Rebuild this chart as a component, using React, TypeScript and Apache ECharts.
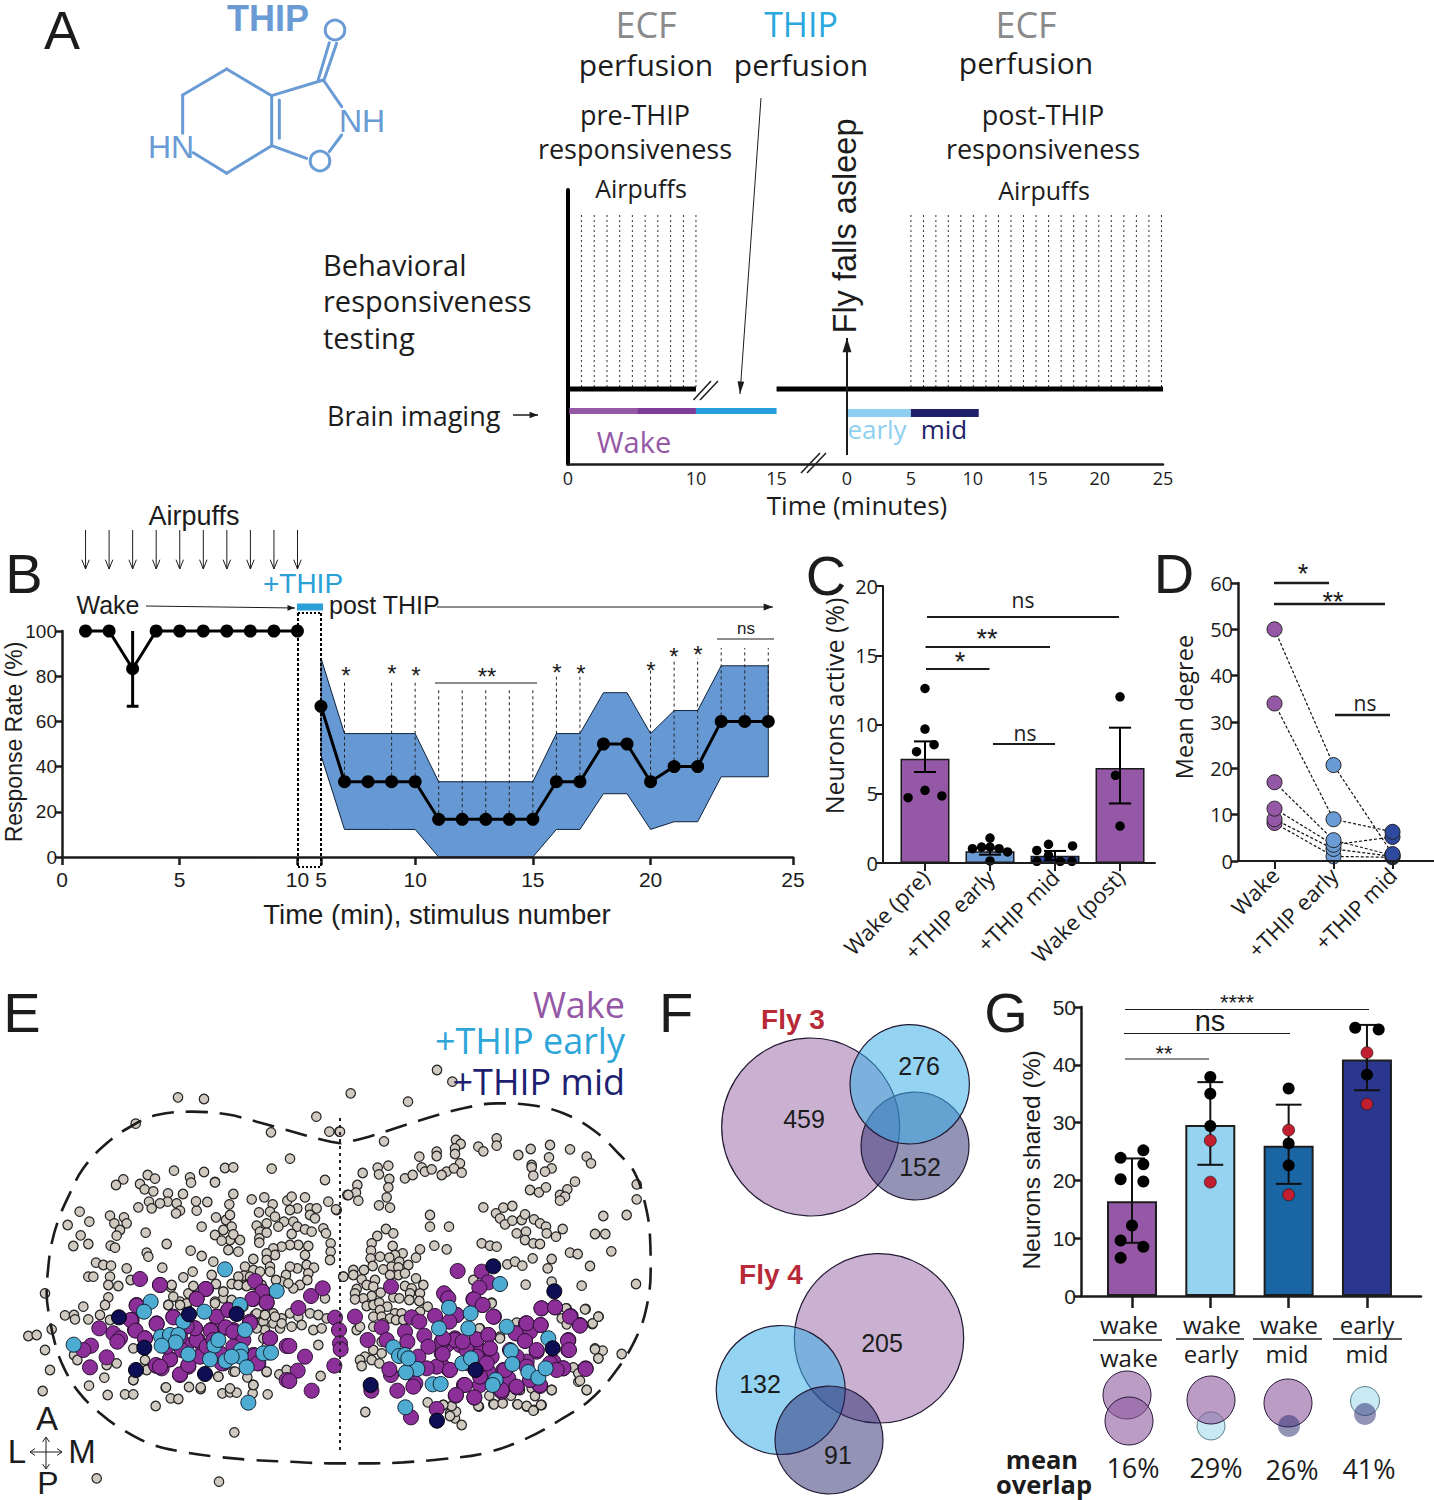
import React, { useEffect, useRef } from "react";
import * as echarts from "echarts";

const SANS = "Liberation Sans";
const MYR = "Open Sans";
const INK = "#1c1c1c";
const PURPLE = "#9558a6";
const LBLUE = "#6a9bd5";
const NAVY = "#2e4a9e";

// ---------- Panel A
const aTickPos = [0, 10, 16.3, 21.8, 26.8, 31.64, 36.7, 41.56, 46.5];
const aTickLabels = ["0", "10", "15", "0", "5", "10", "15", "20", "25"];
const aPrePuffs = [1.05, 2.05, 3.05, 4.04, 5.03, 6.03, 7.02, 8.02, 9.02, 10];
const aPostPuffs = [26.8, 27.78, 28.75, 29.72, 30.7, 31.68, 32.66, 33.64, 34.62, 35.6, 36.58, 37.56, 38.54, 39.52, 40.5, 41.48, 42.46, 43.44, 44.42, 45.4, 46.38];

// ---------- Panel B
const bTickPos = [0, 5, 10, 11, 15, 20, 25, 31.05];
const bTickLabels = ["0", "5", "10", "5", "10", "15", "20", "25"];
const bWakeX = [1, 2, 3, 4, 5, 6, 7, 8, 9, 10];
const bWakeY = [100, 100, 83.3, 100, 100, 100, 100, 100, 100, 100];
const bPostX = [11, 12, 13, 14, 15, 16, 17, 18, 19, 20, 21, 22, 23, 24, 25, 26, 27, 28, 29, 30];
const bPostY = [66.7, 33.3, 33.3, 33.3, 33.3, 16.7, 16.7, 16.7, 16.7, 16.7, 33.3, 33.3, 50, 50, 33.3, 40, 40, 60, 60, 60];
const bUpper = [88, 54.6, 54.6, 54.6, 54.6, 33.3, 33.3, 33.3, 33.3, 33.3, 54.6, 54.6, 72.7, 72.7, 54.6, 64.8, 64.8, 84.6, 84.6, 84.6];
const bLower = [45, 12.2, 12.2, 12.2, 12.2, 0, 0, 0, 0, 0, 12.2, 12.2, 28, 28, 12.2, 15.6, 15.6, 35.5, 35.5, 35.5];
const bDashX = [12, 14, 15, 16, 17, 18, 19, 20, 21, 22, 25, 26, 27, 28, 29, 30];
const bDashTop = [78, 78, 78, 74, 74, 74, 74, 74, 80.7, 80.7, 84, 87, 88, 92.5, 92.5, 92.5];
const bDashBottom = [33.3, 33.3, 33.3, 16.7, 16.7, 16.7, 16.7, 16.7, 33.3, 33.3, 33.3, 40, 40, 60, 60, 60];

// ---------- Panel C
const cCats = ["Wake (pre)", "+THIP early", "+THIP mid", "Wake (post)"];
const cBars = [7.53, 0.84, 0.53, 6.86];
const cColors = [PURPLE, LBLUE, NAVY, PURPLE];
const cErrLow = [6.57, 0.6, 0.2, 4.3];
const cErrHigh = [8.78, 1.05, 0.87, 9.77];
const cPoints = [
  [0, 12.6], [0, 9.67], [0.14, 8.54], [-0.13, 8.04], [0, 5.25], [-0.26, 4.72], [0.26, 4.84],
  [1, 1.8], [0.87, 1.15], [0.73, 1.03], [1, 1.15], [1.14, 1.03], [1.27, 0.8], [1, 0.15],
  [1.9, 1.35], [2.27, 1.23], [1.72, 0.91], [1.9, 0.55], [1.72, 0.12], [2.08, 0.12], [2.26, 0.12],
  [3, 12], [2.93, 6.33], [3, 2.67],
];

// ---------- Panel D
const dCats = ["Wake", "+THIP early", "+THIP mid"];
const dColors = [PURPLE, LBLUE, NAVY];
const dFly1 = [50, 20.7, 1.5];
const dFly2 = [34, 9, 6.3];
const dFly3 = [17, 4.5, 1.2];
const dFly4 = [11.3, 3.5, 5.2];
const dFly5 = [9, 2.6, 1];
const dFly6 = [8.2, 1, 0.8];

// ---------- Panel G
const gBars = [16.4, 29.6, 26, 40.9];
const gColors = ["#9558a6", "#96d3f0", "#1a65a4", "#2b378f"];
const gErrLow = [9.2, 22.7, 19.4, 35.6];
const gErrHigh = [23.8, 37, 33.1, 46.9];
const gBlack = [
  [-0.145, 23.9], [-0.145, 20.2], [-0.145, 9.6], [-0.145, 6.6], [0.145, 25.2], [0.145, 22.8], [0.145, 19.8], [0.145, 8.5], [0, 12.2],
  [1, 37.9], [1, 35], [1, 29.4], [2, 35.9], [2, 26.4], [2, 22.6], [2.85, 46.4], [3.15, 46.1], [3, 38.3],
];
const gRed = [[1, 26.9], [1, 19.7], [2, 28.7], [2, 17.5], [3, 42.1], [3, 33.2]];

// ---------- Panel E  (reading units: 3 per pixel; the right half starts at 990)
const eOutlineLeft = [[1020, 190], [970, 180], [860, 150], [770, 125], [680, 103], [575, 95], [470, 105], [400, 135], [320, 190], [250, 265], [205, 350], [175, 420], [155, 490], [145, 560], [140, 640], [148, 710], [165, 790], [190, 860], [235, 935], [300, 1000], [370, 1050], [460, 1095], [545, 1115], [650, 1130], [760, 1140], [870, 1145], [990, 1150]];
const eOutlineRight = [[60, 1150], [130, 1150], [220, 1147], [340, 1137], [470, 1118], [590, 1075], [690, 1020], [780, 960], [860, 870], [920, 770], [950, 680], [962, 570], [960, 470], [945, 370], [915, 280], [870, 225], [790, 150], [700, 100], [600, 75], [500, 70], [400, 85], [290, 115], [180, 150], [100, 175], [30, 190]];
const eGreyLeft = [[534,52],[612,57],[407,131],[813,157],[949,110],[988,155],[1018,155],[870,236],[815,266],[675,264],[700,262],[522,272],[612,276],[570,292],[573,308],[645,306],[443,285],[465,296],[370,298],[348,315],[420,312],[434,328],[460,334],[504,340],[549,342],[503,365],[447,365],[480,370],[415,382],[455,385],[590,392],[588,364],[622,366],[530,370],[540,392],[528,400],[239,395],[330,407],[372,412],[343,430],[380,430],[268,425],[203,435],[360,450],[350,467],[242,466],[437,458],[605,440],[220,498],[265,492],[332,497],[345,503],[500,492],[440,518],[445,530],[572,512],[605,528],[288,548],[310,555],[333,557],[380,565],[487,563],[550,592],[578,575],[265,590],[280,590],[330,590],[325,615],[355,618],[392,600],[513,622],[565,640],[135,640],[325,652],[250,680],[315,675],[195,706],[222,705],[225,718],[265,718],[300,705],[330,720],[505,675],[540,665],[560,680],[155,748],[85,768],[110,765],[135,810],[955,795],[800,800],[150,870],[222,825],[232,840],[350,850],[320,855],[128,933],[267,917],[313,893],[323,945],[375,943],[400,943],[467,978],[497,923],[512,955],[535,957],[567,921],[602,927],[655,890],[700,875],[760,915],[667,940],[690,937],[710,938],[758,940],[803,943],[838,883],[962,888],[800,876],[400,900],[703,1057],[290,1195],[657,1205],[1042,345],[1030,590]];
const ePurpleLeft = [[420,597],[480,615],[617,627],[590,657],[765,603],[787,635],[757,657],[800,667],[933,648],[968,625],[895,684],[1005,713],[1017,750],[1020,790],[1022,808],[1003,857],[410,677],[392,720],[470,732],[520,712],[650,710],[685,690],[750,730],[407,752],[298,745],[340,760],[435,775],[360,775],[352,785],[273,797],[250,810],[320,832],[270,862],[468,855],[510,838],[540,883],[565,855],[590,780],[585,745],[632,752],[677,742],[700,755],[730,780],[810,775],[868,798],[915,830],[893,872],[868,903],[935,932],[765,827],[773,850],[665,850],[600,830],[545,810],[620,800],[500,800],[700,800],[480,860],[560,740],[640,780],[660,820],[540,770]];
const eBlueLeft = [[675,568],[830,633],[452,665],[432,695],[720,675],[613,695],[550,725],[735,750],[483,770],[510,765],[535,765],[527,787],[485,797],[221,794],[643,797],[655,780],[565,823],[723,810],[722,830],[630,838],[677,843],[790,820],[813,818],[740,862],[745,968],[695,830]];
const eNavyLeft = [[357,712],[567,703],[710,702],[433,803],[408,870],[615,882]];
const eGreyRight = [[321,-30],[367,5],[62,40],[234,65],[30,155],[162,184],[500,175],[500,197],[378,180],[392,192],[375,205],[375,222],[320,215],[320,228],[268,230],[445,200],[460,214],[565,225],[602,207],[660,195],[657,232],[720,208],[770,230],[783,250],[390,250],[605,255],[605,262],[665,265],[645,275],[610,287],[735,305],[920,313],[920,358],[175,257],[143,263],[147,283],[98,279],[275,262],[285,275],[305,268],[350,275],[372,265],[395,278],[335,285],[225,295],[248,285],[178,297],[175,322],[82,315],[78,338],[55,345],[85,362],[170,352],[147,376],[180,383],[20,390],[600,330],[627,337],[648,322],[712,328],[690,345],[705,350],[690,362],[460,382],[498,400],[520,383],[547,378],[510,415],[525,433],[547,422],[575,420],[585,403],[612,418],[630,430],[648,440],[698,447],[560,460],[588,455],[585,480],[610,490],[630,492],[650,460],[678,470],[820,408],[890,405],[795,462],[826,462],[844,514],[455,490],[480,497],[500,500],[720,518],[743,522],[608,535],[532,553],[555,545],[577,557],[665,537],[653,565],[780,558],[918,612],[587,614],[755,617],[665,605],[106,996],[767,687],[806,710],[787,732],[710,685],[795,805],[818,812],[805,835],[875,822],[742,870],[745,905],[770,930],[665,930],[562,973],[590,980],[612,990],[635,975],[518,968],[490,972],[543,945],[447,980],[293,967],[340,975],[360,1000],[375,1015],[395,1035],[378,995],[485,668],[430,600],[510,770],[450,745]];
const ePurpleRight = [[383,573],[455,575],[475,607],[448,623],[432,658],[458,675],[342,640],[355,655],[183,620],[75,710],[155,742],[113,780],[170,780],[225,755],[245,712],[268,725],[232,785],[283,767],[315,708],[380,705],[358,725],[490,710],[440,778],[475,765],[375,780],[335,785],[295,800],[265,830],[320,860],[360,870],[183,885],[178,868],[256,910],[250,920],[202,932],[338,822],[340,775],[410,810],[480,805],[440,830],[470,850],[405,915],[378,945],[433,952],[515,930],[560,920],[525,870],[450,890],[320,987],[243,1012],[124,932],[590,730],[632,735],[557,760],[585,783],[634,685],[675,682],[720,710],[750,737],[714,782],[717,810],[620,810],[700,865],[767,867],[630,915],[600,900],[660,850],[680,870],[560,830],[540,810],[590,860],[398,785],[415,850],[290,865]];
const eBlueRight = [[510,612],[357,683],[422,700],[327,745],[415,745],[530,740],[655,775],[190,802],[207,828],[225,825],[262,867],[228,877],[308,913],[332,912],[397,850],[423,835],[543,813],[547,852],[595,876],[625,893],[647,865],[497,900],[488,915],[226,982],[235,835]];
const eNavyRight = [[490,559],[673,634],[668,805],[437,870],[122,915],[321,1022]];
// close-up readings of the dense regions, each relative to its crop's corner
const eGreyCrop1 = [[15,37],[70,72],[58,103],[125,88],[163,82],[188,103],[232,92],[245,80],[285,82],[262,115],[240,120],[180,125],[147,127],[18,142],[48,150],[60,135],[65,170],[40,180],[15,195],[60,210],[90,210],[70,193],[55,240],[85,245],[35,212],[140,167],[170,160],[195,140],[222,155],[250,155],[262,170],[205,170],[245,192],[150,185],[148,205],[148,218],[170,188],[285,178],[305,185],[300,115],[320,115],[300,135],[315,145],[355,95],[378,118],[340,175],[348,190],[362,220],[362,245],[360,270],[345,30],[265,225],[295,228],[240,225],[215,230],[190,235],[195,255],[170,250],[170,270],[130,267],[105,290],[180,290],[180,305],[285,255],[290,285],[312,293],[295,310],[262,295],[240,290],[228,315],[215,335],[102,317],[85,320],[130,300],[150,305],[120,320],[105,345],[130,345],[65,342],[85,345],[40,365],[40,385],[198,330],[155,345],[270,345],[250,355],[235,340],[292,330],[345,385],[15,395],[135,435],[160,435],[190,430],[240,430],[265,440],[300,430],[325,435],[350,445],[160,455],[190,460],[215,445],[245,470],[275,465],[310,480],[335,475],[165,480],[210,475],[5,315],[10,275]];
const eGreyCrop2 = [[270,15],[270,50],[327,50],[283,107],[320,118],[138,57],[160,70],[112,78],[95,100],[158,108],[93,122],[92,145],[120,140],[240,118],[228,143],[188,130],[165,135],[148,143],[178,155],[205,165],[98,168],[130,178],[155,170],[175,172],[175,195],[150,195],[195,190],[40,180],[72,180],[40,195],[10,200],[65,208],[105,210],[228,205],[195,228],[250,225],[215,235],[80,225],[100,230],[50,237],[122,248],[95,258],[45,250],[70,265],[45,268],[160,262],[178,265],[210,250],[240,250],[208,270],[238,273],[80,288],[100,285],[118,278],[142,290],[120,300],[165,310],[185,310],[263,290],[240,305],[100,320],[125,320],[150,325],[168,330],[190,330],[100,350],[50,360],[60,350],[130,340],[125,395],[100,420],[75,440],[95,450],[118,460],[125,430],[60,450],[65,468]];
const eGreyCrop3 = [[155,40],[435,58],[378,55],[365,85],[380,103],[458,100],[475,80],[180,145],[118,115],[465,178],[475,205],[400,232],[415,250],[420,272],[440,300],[335,300],[275,295],[285,318],[240,300],[213,317],[148,317],[162,343],[188,340],[233,343],[260,348],[280,362],[303,345],[115,348],[35,348],[10,345],[30,378],[230,98]];
const ePurpleCrop3 = [[20,20],[100,28],[127,45],[305,55],[345,52],[392,78],[420,105],[162,80],[258,100],[302,105],[145,135],[110,150],[230,130],[255,152],[270,125],[45,145],[20,165],[5,190],[60,165],[85,180],[148,178],[120,185],[155,200],[385,150],[385,180],[290,185],[260,215],[340,215],[370,235],[437,235],[28,240],[5,225],[72,285],[120,285],[47,317],[103,323],[190,240],[205,265],[230,292],[185,305],[300,288],[145,245],[10,150],[50,75]];
const eGreyCrop4 = [[125,15],[130,50],[115,75],[190,18],[258,12],[280,35],[305,60],[350,18],[340,80],[435,110],[455,130],[380,100],[405,105],[380,145],[400,175],[470,270],[415,225],[410,275],[315,275],[265,290],[352,292],[370,315],[300,325],[108,322],[212,322],[10,205],[45,240],[10,300],[50,270],[170,70],[150,75],[255,70]];
const ePurpleCrop4 = [[90,15],[228,27],[200,55],[370,57],[398,35],[410,68],[20,75],[80,130],[5,120],[15,150],[130,110],[260,110],[295,90],[45,175],[195,145],[243,150],[287,143],[310,150],[203,180],[170,195],[220,205],[360,125],[420,175],[470,198],[370,225],[385,250],[120,238],[80,258],[95,265],[175,260],[150,285],[280,250],[470,300]];
const off = (a: number[][], dx: number, dy: number) => a.map(([x, y]) => [x + dx, y + dy]);
const shift = (a: number[][]) => off(a, 990, 0);

// ---------- helpers
const txt = (text: string, x: number, y: number, size: number, o: any = {}) => ({
  type: "text", x, y, z: 60, silent: true, rotation: o.rotation || 0,
  style: {
    text, fill: o.fill || INK, fontSize: size, fontFamily: o.font || SANS, fontWeight: o.weight || "normal",
    align: o.align || "center", textAlign: o.align || "center", verticalAlign: "middle", textVerticalAlign: "middle", textBaseline: "middle",
  },
});
const ln = (x1: number, y1: number, x2: number, y2: number, w = 1, stroke = INK, dash?: number[]) => ({
  type: "line", z: 55, silent: true, shape: { x1, y1, x2, y2 },
  style: { stroke, lineWidth: w, lineDash: dash },
});
const arrow = (x1: number, y1: number, x2: number, y2: number, w = 1, head = 8, filled = true, spread = 0.36) => {
  const a = Math.atan2(y2 - y1, x2 - x1);
  const p1 = [x2 - head * Math.cos(a - spread), y2 - head * Math.sin(a - spread)];
  const p2 = [x2 - head * Math.cos(a + spread), y2 - head * Math.sin(a + spread)];
  return [
    ln(x1, y1, x2, y2, w),
    filled
      ? { type: "polygon", z: 55, silent: true, shape: { points: [[x2, y2], p1, p2] }, style: { fill: INK } }
      : { type: "polyline", z: 55, silent: true, shape: { points: [p1, [x2, y2], p2] }, style: { stroke: INK, fill: "none", lineWidth: w } },
  ];
};
const circ = (cx: number, cy: number, r: number, fill: string, stroke = "#221a33", lw = 1.2) => ({
  type: "circle", z: 40, silent: true, shape: { cx, cy, r }, style: { fill, stroke, lineWidth: lw },
});

const segs = (gridIdx: number, data: number[][], stroke: string, lineWidth: number, lineDash?: number[], z = 3) => ({
  type: "custom", xAxisIndex: gridIdx, yAxisIndex: gridIdx, z, silent: true, clip: false,
  data, encode: { x: [0, 2], y: [1, 3] },
  renderItem: (_: any, api: any) => {
    const a = api.coord([api.value(0), api.value(1)]);
    const b = api.coord([api.value(2), api.value(3)]);
    return { type: "line", shape: { x1: a[0], y1: a[1], x2: b[0], y2: b[1] }, style: { stroke, lineWidth, lineDash, lineCap: "butt", fill: "none" } };
  },
});
const dots = (gridIdx: number, data: number[][], color: string, size: number, z = 5, border?: string, bw = 0) => ({
  type: "scatter", xAxisIndex: gridIdx, yAxisIndex: gridIdx, z, silent: true, clip: false, symbolSize: size, data,
  itemStyle: { color, borderColor: border, borderWidth: bw, opacity: 1 },
});
const tickFmt = (pos: number[], labels: string[]) => (v: number) => {
  const i = pos.findIndex((p) => Math.abs(p - v) < 1e-6);
  return i < 0 ? "" : labels[i];
};
const errSegs = (low: number[], high: number[], capHalf: number) =>
  low.flatMap((l, i) => [[i, l, i, high[i]], [i - capHalf, l, i + capHalf, l], [i - capHalf, high[i], i + capHalf, high[i]]]);
const yAxisBase = (gridIndex: number, max: number, interval: number, fontSize: number, font: string, lw = 2.5) => ({
  type: "value", gridIndex, min: 0, max, interval, splitLine: { show: false }, z: 1,
  axisLine: { show: true, onZero: false, lineStyle: { color: INK, width: lw } },
  axisTick: { show: true, length: 7, lineStyle: { color: INK, width: lw } },
  axisLabel: { color: INK, fontSize, fontFamily: font, margin: 5 },
});
const xAxisCustom = (gridIndex: number, min: number, max: number, pos: number[], labels: string[], o: any = {}) => ({
  type: "value", gridIndex, min, max, splitLine: { show: false }, z: 10,
  axisLine: { show: true, onZero: false, lineStyle: { color: INK, width: o.lw ?? 2.5 } },
  axisTick: { show: o.tick ?? true, length: o.tickLen ?? 8, customValues: pos, lineStyle: { color: INK, width: o.lw ?? 2.5 } },
  axisLabel: {
    show: o.labels ?? true, customValues: pos, formatter: tickFmt(pos, labels), color: INK, fontSize: o.fontSize ?? 20,
    fontFamily: o.font ?? SANS, rotate: o.rotate ?? 0, margin: o.margin ?? 10, showMinLabel: true, showMaxLabel: true, hideOverlap: false,
  },
});

export default function App() {
  const ref = useRef<HTMLDivElement>(null);
  useEffect(() => {
    const chart = echarts.init(ref.current!, null, { renderer: "svg" });

    const grid = [
      { left: 568, top: 190, width: 595, height: 274 }, // A
      { left: 62, top: 631, width: 731, height: 226 }, // B
      { left: 883, top: 586, width: 272, height: 277 }, // C
      { left: 1238, top: 583, width: 196, height: 278 }, // D
      { left: 1081, top: 1007, width: 340, height: 289 }, // G
      { left: 0, top: 1050, width: 660, height: 450 }, // E
    ];

    const xAxis: any[] = [
      xAxisCustom(0, 0, 46.5, aTickPos, aTickLabels, { tick: false, fontSize: 18, font: MYR, margin: 5 }),
      xAxisCustom(1, 0, 31.05, bTickPos, bTickLabels, { fontSize: 21, margin: 12 }),
      xAxisCustom(2, -0.646, 3.538, [0, 1, 2, 3], cCats, { rotate: 45, fontSize: 22, font: MYR, margin: 10, lw: 2 }),
      xAxisCustom(3, -0.619, 2.703, [0, 1, 2], dCats, { rotate: 45, fontSize: 22, font: MYR, margin: 10, lw: 2 }),
      xAxisCustom(4, -0.651, 3.69, [0, 1, 2, 3], ["", "", "", ""], { labels: false, tickLen: 12, lw: 2.5 }),
      { type: "value", gridIndex: 5, min: 0, max: 1980, show: false },
    ];
    const yAxis: any[] = [
      { type: "value", gridIndex: 0, min: 0, max: 274, splitLine: { show: false }, axisTick: { show: false }, axisLabel: { show: false }, axisLine: { show: true, lineStyle: { color: "#000", width: 4 } } },
      yAxisBase(1, 100, 20, 19, SANS),
      yAxisBase(2, 20, 5, 20, MYR, 2),
      yAxisBase(3, 60, 10, 20, MYR, 2.5),
      yAxisBase(4, 50, 10, 21, SANS, 2.5),
      { type: "value", gridIndex: 5, min: -90, max: 1260, inverse: true, show: false },
    ];

    const dFlies = [dFly6, dFly5, dFly4, dFly3, dFly2, dFly1];
    const allGrey = [...eGreyLeft, ...shift(eGreyRight), ...off(eGreyCrop1, 630, 270), ...off(eGreyCrop2, 1020, 390), ...off(eGreyCrop3, 1320, 630), ...off(eGreyCrop4, 390, 600)];
    const allPurple = [...off(ePurpleCrop4, 390, 600), ...off(ePurpleCrop3, 1320, 630), ...ePurpleLeft, ...shift(ePurpleRight)];
    const series: any[] = [
      // A
      segs(0, aPrePuffs.map((x) => [x, 77, x, 252]), "#333", 1, [2, 3]),
      segs(0, aPostPuffs.map((x) => [x, 77, x, 252]), "#333", 1, [2, 3]),
      segs(0, [[0, 75, 10, 75], [16.3, 75, 46.5, 75]], "#000", 5),
      segs(0, [[0.1, 53, 5.4, 53]], "#9558a6", 6),
      segs(0, [[5.4, 53, 10, 53]], "#7f3c97", 6),
      segs(0, [[10, 53, 16.3, 53]], "#25a0dc", 6),
      segs(0, [[21.8, 51, 26.8, 51]], "#8fd0f0", 8),
      segs(0, [[26.8, 51, 32.1, 51]], "#1f1f6b", 8),
      // B
      {
        type: "custom", xAxisIndex: 1, yAxisIndex: 1, z: 2, silent: true, clip: false,
        data: [[bPostX[0], bUpper[0]]],
        renderItem: (_: any, api: any) => ({
          type: "polygon",
          shape: {
            points: [
              ...bPostX.map((x, i) => api.coord([x, bUpper[i]])),
              ...bPostX.map((x, i) => api.coord([x, bLower[i]])).reverse(),
            ],
          },
          style: { fill: "#6699d3", stroke: "#10233c", lineWidth: 1 },
        }),
      },
      segs(1, bDashX.map((x, i) => [x, bDashBottom[i], x, bDashTop[i]]), "#222", 1, [3, 3], 3),
      segs(1, [[3, 66.7, 3, 100], [2.75, 66.7, 3.25, 66.7]], "#000", 3, undefined, 4),
      {
        type: "line", xAxisIndex: 1, yAxisIndex: 1, z: 5, silent: true, symbol: "circle", symbolSize: 13, clip: false,
        data: bWakeX.map((x, i) => [x, bWakeY[i]]), lineStyle: { color: "#000", width: 3 }, itemStyle: { color: "#000" },
      },
      {
        type: "line", xAxisIndex: 1, yAxisIndex: 1, z: 5, silent: true, symbol: "circle", symbolSize: 13, clip: false,
        data: bPostX.map((x, i) => [x, bPostY[i]]), lineStyle: { color: "#000", width: 3 }, itemStyle: { color: "#000" },
      },
      // C
      {
        type: "bar", xAxisIndex: 2, yAxisIndex: 2, z: 2, silent: true, barWidth: 49,
        data: cBars.map((v, i) => ({ value: [i, v], itemStyle: { color: cColors[i], borderColor: "#1a1a1a", borderWidth: 1.5 } })),
      },
      dots(2, cPoints, "#000", 9.5, 5),
      segs(2, errSegs(cErrLow, cErrHigh, 0.17), "#000", 2, undefined, 4),
      // D
      ...dFlies.map((fly, f) => ({
        type: "line", xAxisIndex: 3, yAxisIndex: 3, z: 4 + f, silent: true, symbol: "circle", symbolSize: 15, clip: false,
        lineStyle: { color: "#111", width: 1.2, type: [3, 2] },
        data: fly.map((v, i) => ({ value: [i, v], itemStyle: { color: dColors[i], borderColor: "#222", borderWidth: 1 } })),
      })),
      // G
      {
        type: "bar", xAxisIndex: 4, yAxisIndex: 4, z: 2, silent: true, barWidth: 50,
        data: gBars.map((v, i) => ({ value: [i, v], itemStyle: { color: gColors[i], borderColor: "#1e1e1e", borderWidth: 2 } })),
      },
      segs(4, errSegs(gErrLow, gErrHigh, 0.165), "#111", 2, undefined, 3),
      dots(4, gBlack, "#000", 12, 5),
      dots(4, gRed, "#c01f30", 12, 5, "#111", 0.6),
      // E
      dots(5, allGrey, "#cfc9c0", 9.5, 3, "#222", 1.2),
      {
        type: "line", xAxisIndex: 5, yAxisIndex: 5, z: 4, silent: true, symbol: "none", smooth: 0.4, clip: false,
        data: [...eOutlineLeft, ...shift(eOutlineRight), eOutlineLeft[0]],
        lineStyle: { color: "#1c1c1c", width: 2.6, type: [22, 12] },
      },
      dots(5, allPurple, "#8c2f99", 15, 5, "#2a1030", 1),
      dots(5, [...eBlueLeft, ...shift(eBlueRight)], "#4eabd1", 15, 6, "#123", 1),
      dots(5, [...eNavyLeft, ...shift(eNavyRight)], "#0e0e55", 15, 7, "#000", 1),
    ];

    const benzBlue = "#6a9bd4";
    const mol = (pts: number[][], w = 3) => pts.slice(1).map((p, i) => ({
      type: "line", z: 55, silent: true,
      shape: { x1: 130 + pts[i][0] / 3, y1: pts[i][1] / 3, x2: 130 + p[0] / 3, y2: p[1] / 3 },
      style: { stroke: benzBlue, lineWidth: w, lineCap: "round" },
    }));

    const graphic: any[] = [
      // panel letters
      txt("A", 62, 30, 54), txt("B", 24, 573, 56), txt("C", 826, 575, 56), txt("D", 1174, 573, 56),
      txt("E", 22, 1012, 56), txt("F", 676, 1012, 56), txt("G", 1006, 1012, 56),
      // molecule
      txt("THIP", 268, 18, 36, { weight: "bold", fill: benzBlue }),
      ...mol([[158, 400], [158, 285], [290, 207], [425, 287], [425, 437], [290, 520], [190, 458]]),
      ...mol([[448, 300], [448, 415]]),
      ...mol([[425, 287], [580, 240], [635, 320]]),
      ...mol([[565, 238], [598, 128]]),
      ...mol([[582, 240], [620, 130]]),
      ...mol([[635, 405], [598, 455]]),
      ...mol([[425, 437], [530, 475]]),
      { type: "circle", z: 55, silent: true, shape: { cx: 335, cy: 30, r: 9.8 }, style: { fill: "none", stroke: benzBlue, lineWidth: 3 } },
      { type: "circle", z: 55, silent: true, shape: { cx: 320, cy: 161, r: 9.8 }, style: { fill: "none", stroke: benzBlue, lineWidth: 3 } },
      txt("NH", 362, 121, 32, { fill: benzBlue }),
      txt("HN", 171, 147, 32, { fill: benzBlue }),
      // A texts
      txt("ECF", 646, 24, 36, { fill: "#8a8a8a", font: MYR }),
      txt("perfusion", 646, 64, 30, { font: MYR }),
      txt("THIP", 801, 24, 34, { fill: "#29a8e0", font: MYR }),
      txt("perfusion", 801, 64, 30, { font: MYR }),
      txt("ECF", 1026, 24, 36, { fill: "#8a8a8a", font: MYR }),
      txt("perfusion", 1026, 62, 30, { font: MYR }),
      txt("pre-THIP", 635, 114, 27, { font: MYR }),
      txt("responsiveness", 635, 148, 27, { font: MYR }),
      txt("post-THIP", 1043, 114, 27, { font: MYR }),
      txt("responsiveness", 1043, 148, 27, { font: MYR }),
      txt("Airpuffs", 641, 188, 25, { font: MYR }),
      txt("Airpuffs", 1044, 190, 25, { font: MYR }),
      txt("Behavioral", 323, 264, 29, { font: MYR, align: "left" }),
      txt("responsiveness", 323, 300, 29, { font: MYR, align: "left" }),
      txt("testing", 323, 337, 29, { font: MYR, align: "left" }),
      txt("Brain imaging", 327, 415, 27, { font: MYR, align: "left" }),
      ...arrow(513, 415, 538, 415, 1.5, 9),
      txt("Wake", 634, 441, 29, { fill: PURPLE, font: MYR }),
      txt("early", 877, 429, 26, { fill: "#8ed0ee", font: MYR }),
      txt("mid", 944, 429, 26, { fill: "#1f1f6b", font: MYR }),
      txt("Time (minutes)", 857, 505, 26, { font: MYR }),
      txt("Fly falls asleep", 845, 226, 32.5, { rotation: Math.PI / 2 }),
      ...arrow(847, 455, 847, 338, 2, 15, true, 0.3),
      ...arrow(761, 98, 740, 394, 1, 13, true, 0.26),
      ln(693.5, 400, 711, 381, 1.5), ln(700, 400, 718, 381, 1.5),
      ln(801, 473, 820, 453, 1.5), ln(807, 473, 826, 453, 1.5),
      // B texts
      txt("Airpuffs", 194, 516, 27),
      ...bWakeX.flatMap((s) => arrow(62 + s * 23.55, 530, 62 + s * 23.55, 569, 1, 10, false, 0.38)),
      txt("+THIP", 303, 583, 28, { fill: "#2a9fd8" }),
      ln(297, 607, 323, 607, 7, "#2a9fd8"),
      ln(298, 613, 321, 613, 2, "#000", [2, 2]),
      ln(298, 613, 298, 868, 2, "#000", [3, 2]),
      ln(321, 613, 321, 868, 2, "#000", [3, 2]),
      ln(298, 867, 321, 867, 2, "#000", [2, 2]),
      txt("Wake", 108, 605, 25),
      ...arrow(146, 606, 295, 608, 1, 8),
      txt("post THIP", 329, 605, 25, { align: "left" }),
      ...arrow(437, 607, 773, 607, 1, 10),
      txt("Time (min), stimulus number", 437, 914, 27.5),
      txt("Response Rate (%)", 14, 742, 23, { rotation: Math.PI / 2 }),
      ...[[346, 672], [392, 670], [416, 672], [557, 669], [581, 670], [651, 667], [674, 653], [698, 651]].map(([x, y]) => txt("*", x, y + 3, 24)),
      txt("**", 487, 676, 24),
      ln(435, 683, 537, 683, 1.2),
      txt("ns", 746, 628, 17),
      ln(717, 639, 774, 639, 1.2),
      // C texts
      txt("Neurons active (%)", 834, 706, 25, { rotation: Math.PI / 2, font: MYR }),
      ln(927, 617, 1119, 617, 2.2), txt("ns", 1023, 600, 21, { font: MYR }),
      ln(925.5, 647, 1050, 647, 2.2), txt("**", 987, 639, 27),
      ln(926, 669, 989.5, 669, 2.2), txt("*", 960, 662, 27),
      ln(993, 744, 1055, 744, 2.2), txt("ns", 1025, 733, 21, { font: MYR }),
      // D texts
      txt("Mean degree", 1184, 707, 23.5, { rotation: Math.PI / 2, font: MYR }),
      ln(1274, 583, 1329, 583, 2.5), txt("*", 1303, 574, 27),
      ln(1274, 604, 1385, 604, 2.5), txt("**", 1333, 602, 27),
      ln(1335, 715, 1390, 715, 2.5), txt("ns", 1365, 703, 21, { font: MYR }),
      // E
      ln(340, 1118, 340, 1452, 2, "#222", [3, 4]),
      txt("Wake", 625, 1004, 36, { fill: PURPLE, align: "right", font: MYR }),
      txt("+THIP early", 625, 1040, 36, { fill: "#2fa6da", align: "right", font: MYR }),
      txt("+THIP mid", 625, 1081, 36, { fill: "#1e1f70", align: "right", font: MYR }),
      txt("A", 47, 1418, 33), txt("L", 17, 1451, 33), txt("M", 82, 1451, 33), txt("P", 48, 1483, 32),
      ...arrow(46, 1452, 30, 1452, 1, 6, false, 0.6), ...arrow(46, 1452, 62, 1452, 1, 6, false, 0.6),
      ...arrow(46, 1452, 46, 1437, 1, 6, false, 0.6), ...arrow(46, 1452, 46, 1469, 1, 6, false, 0.6),
      // F
      circ(810.7, 1127, 89, "rgba(142,90,158,0.47)"),
      circ(915, 1146, 54, "rgba(40,40,110,0.5)"),
      circ(909.7, 1084.3, 59.7, "rgba(60,175,232,0.55)"),
      circ(879, 1338.3, 84.7, "rgba(142,90,158,0.47)"),
      circ(780.7, 1390, 64.5, "rgba(60,175,232,0.55)"),
      circ(829, 1440, 54, "rgba(40,40,110,0.5)"),
      txt("Fly 3", 793, 1019, 28, { fill: "#b72a38", weight: "bold" }),
      txt("Fly 4", 771, 1274, 28, { fill: "#b72a38", weight: "bold" }),
      txt("459", 804, 1119, 25), txt("276", 919, 1066, 25), txt("152", 920, 1167, 25),
      txt("205", 882, 1343, 25), txt("132", 760, 1384, 25), txt("91", 838, 1455, 25),
      // G texts
      txt("Neurons shared (%)", 1031, 1160, 24.5, { rotation: Math.PI / 2 }),
      ln(1125, 1009.5, 1369, 1009.5, 1.2), txt("****", 1237, 1002, 22),
      ln(1124, 1033.5, 1290, 1033.5, 1.2), txt("ns", 1210, 1021, 29),
      ln(1125, 1059, 1209, 1059, 1.2), txt("**", 1164, 1053, 22),
      txt("wake", 1129, 1324, 24, { font: MYR }), ln(1093, 1340, 1162, 1340, 1.5), txt("wake", 1129, 1357, 24, { font: MYR }),
      txt("wake", 1212, 1324, 24, { font: MYR }), ln(1176, 1339, 1244, 1339, 1.5), txt("early", 1211, 1353, 24, { font: MYR }),
      txt("wake", 1289, 1324, 24, { font: MYR }), ln(1253, 1339, 1322, 1339, 1.5), txt("mid", 1287, 1353, 24, { font: MYR }),
      txt("early", 1367, 1324, 24, { font: MYR }), ln(1333, 1339, 1402, 1339, 1.5), txt("mid", 1367, 1353, 24, { font: MYR }),
      circ(1127, 1395, 24, "rgba(142,90,158,0.6)", "#2a1a3a", 1),
      circ(1129, 1421, 24, "rgba(142,90,158,0.6)", "#2a1a3a", 1),
      circ(1211, 1426, 14, "rgba(120,200,225,0.4)", "#5a7f8c", 1),
      circ(1211, 1400, 24, "rgba(142,90,158,0.6)", "#2a1a3a", 1),
      circ(1288, 1403, 24, "rgba(142,90,158,0.6)", "#2a1a3a", 1),
      circ(1289, 1426, 11, "rgba(40,40,110,0.5)", "none", 0),
      circ(1365, 1401, 14.5, "rgba(120,200,225,0.4)", "#5a7f8c", 1),
      circ(1365, 1414, 11, "rgba(40,40,110,0.5)", "none", 0),
      txt("mean", 1042, 1459, 25.5, { weight: "bold", font: MYR }),
      txt("overlap", 1044, 1484, 25.5, { weight: "bold", font: MYR }),
      txt("16%", 1133, 1467, 27, { font: MYR }), txt("29%", 1216, 1467, 27, { font: MYR }),
      txt("26%", 1292, 1469, 27, { font: MYR }), txt("41%", 1369, 1468, 27, { font: MYR }),
    ];

    chart.setOption({ animation: false, backgroundColor: "#fff", grid, xAxis, yAxis, series, graphic });
    return () => chart.dispose();
  }, []);
  return <div ref={ref} style={{ position: "absolute", left: 0, top: 0, width: 1434, height: 1500 }} />;
}
